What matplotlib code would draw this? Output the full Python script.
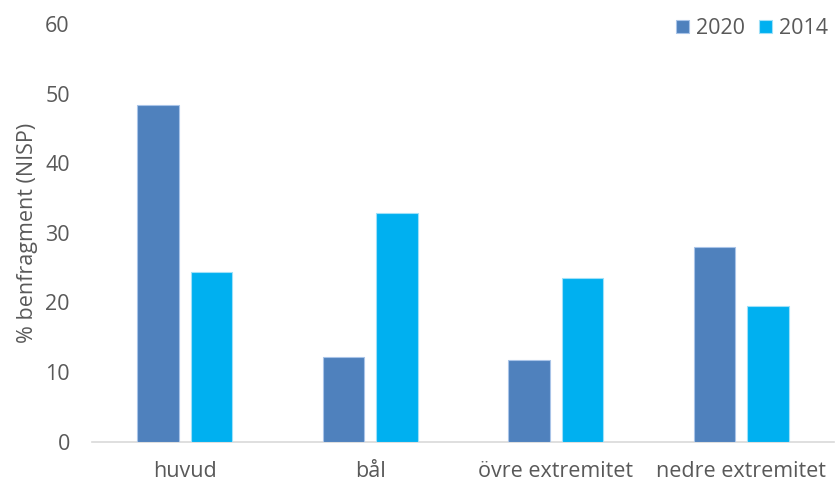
import matplotlib
matplotlib.use("Agg")
import matplotlib.pyplot as plt
import numpy as np

categories = ["huvud", "bål", "övre extremitet", "nedre extremitet"]
series_names = ["2020", "2014"]
values_2020 = [48.4, 12.2, 11.7, 27.9]
values_2014 = [24.4, 32.9, 23.5, 19.5]
y_ticks = [0, 10, 20, 30, 40, 50, 60]
y_label = "% benfragment (NISP)"

colors = ["#4F81BD", "#00B0F0"]
text_color = "#595959"
fs = 15.5

plt.rcParams["font.family"] = ["Open Sans", "DejaVu Sans"]

fig = plt.figure(figsize=(8.35, 4.82), dpi=100)
ax = fig.add_axes([92 / 835, 40.5 / 482, 742 / 835, 417.5 / 482])

x = np.arange(len(categories))
width = 0.226
offset = 0.144
ax.bar(x - offset, values_2020, width, color=colors[0], edgecolor="#A9C4E8",
       linewidth=0.8, label=series_names[0], zorder=3)
ax.bar(x + offset, values_2014, width, color=colors[1], edgecolor="#9FE0F8",
       linewidth=0.8, label=series_names[1], zorder=3)

ax.set_xlim(-0.5, len(categories) - 0.5)
ax.set_ylim(0, 60)
ax.set_yticks(y_ticks)
ax.set_xticks(x)
ax.set_xticklabels(categories)

for side in ("top", "right", "left"):
    ax.spines[side].set_visible(False)
ax.spines["bottom"].set_color("#D9D9D9")
ax.spines["bottom"].set_linewidth(1.2)

ax.tick_params(axis="y", length=0, pad=16, labelsize=fs, labelcolor=text_color)
ax.tick_params(axis="x", length=0, pad=14, labelsize=fs, labelcolor=text_color)

ax.set_ylabel(y_label, fontsize=fs, color=text_color, labelpad=5)

leg = ax.legend(loc="upper right", bbox_to_anchor=(1.003, 1.035), ncol=2,
                frameon=False, fontsize=fs, handlelength=0.58, handleheight=0.58,
                handletextpad=0.33, columnspacing=0.65, borderaxespad=0)
for t in leg.get_texts():
    t.set_color(text_color)

fig.savefig("out.png", dpi=100, facecolor="white")
